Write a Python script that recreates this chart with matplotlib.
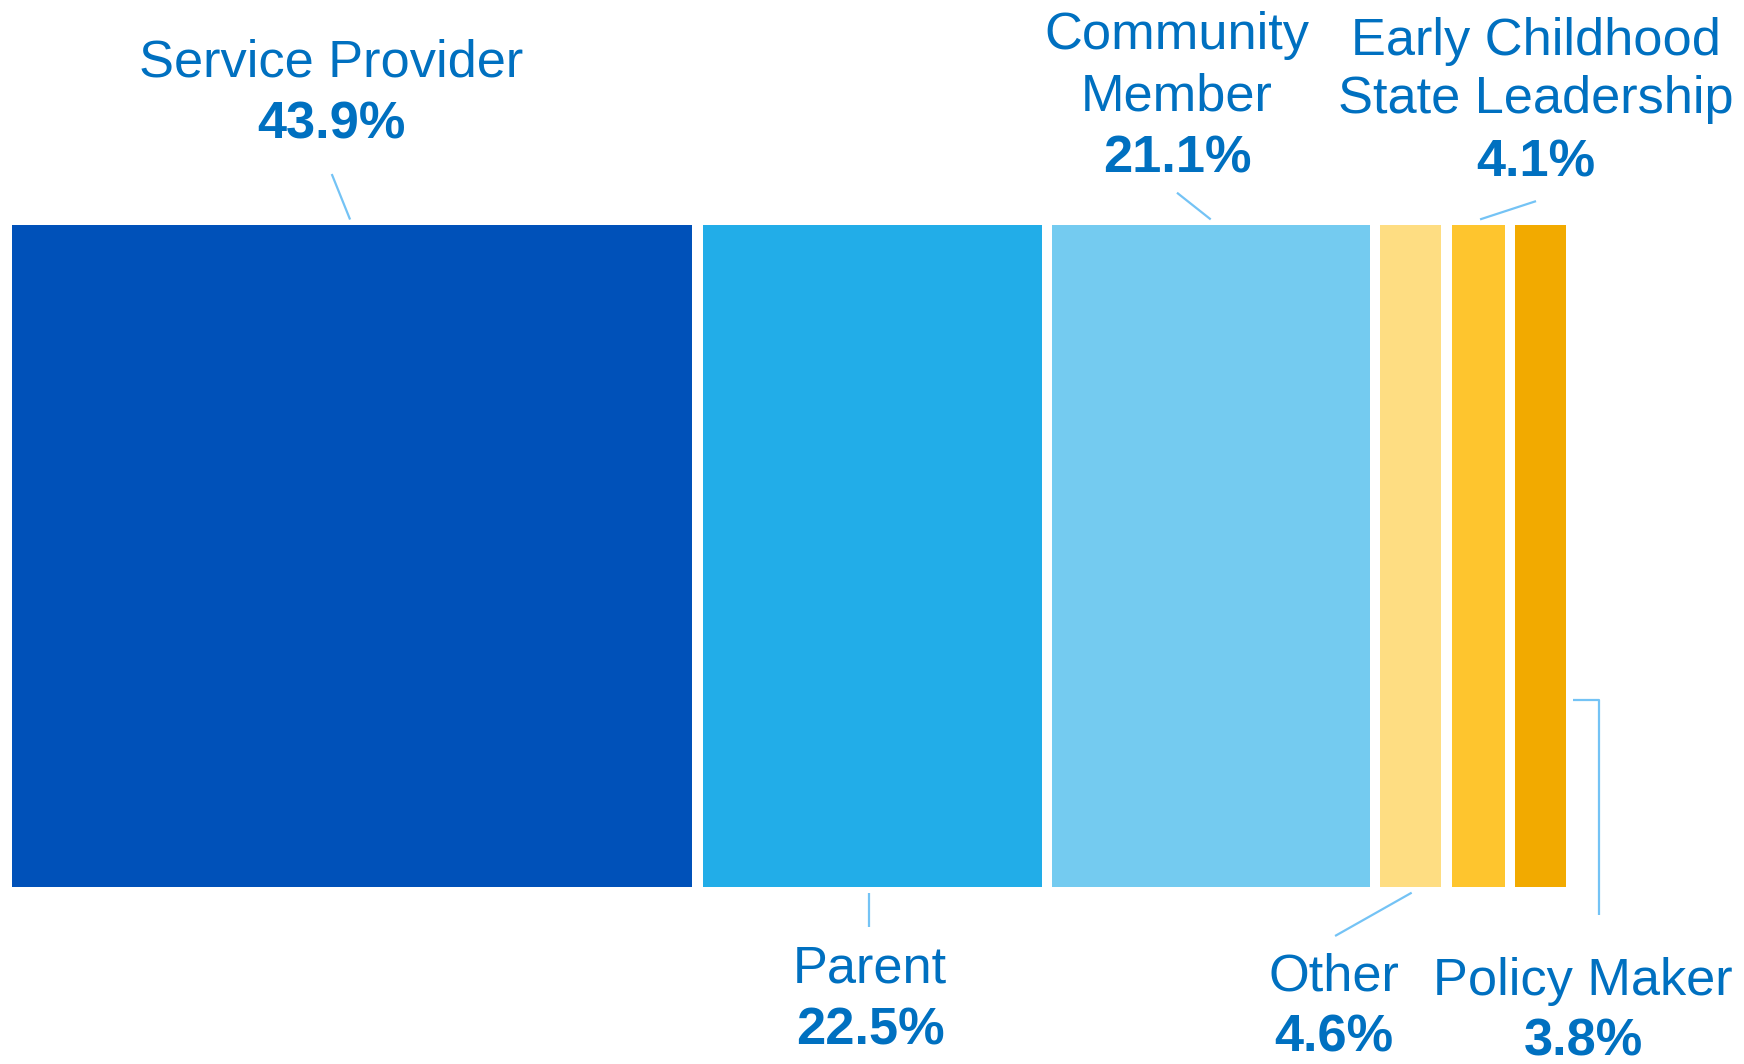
import matplotlib.pyplot as plt

# share of respondents by role (%)
roles = ['Service Provider', 'Parent', 'Community Member', 'Other',
         'Early Childhood State Leadership', 'Policy Maker']
shares = [43.9, 22.5, 21.1, 4.6, 4.1, 3.8]
colors = ['#0051B9', '#22ADE8', '#74CBF0', '#FEDD82', '#FEC52E', '#F2AA00']

# label text lines (name lines), label centre x and baselines (data units)
label_lines = [['Service Provider'], ['Parent'], ['Community', 'Member'], ['Other'],
               ['Early Childhood', 'State Leadership'], ['Policy Maker']]
label_x = [20.54, 55.22, 74.97, 85.05, 98.04, 101.09]
label_base = [[1.2235, 1.1304], [-0.1445, -0.2386], [1.2653, 1.1732, 1.0785],
              [-0.157, -0.2487], [1.2562, 1.1682, 1.0725], [-0.163, -0.2547]]

# leader lines (label side -> bar side)
leaders = [
    ([20.59, 21.77], [1.0765, 1.0078]),
    ([55.18, 55.18], [-0.061, -0.0086]),
    ([74.97, 77.14], [1.0483, 1.008]),
    ([85.14, 90.07], [-0.074, -0.0086]),
    ([98.07, 94.47], [1.0356, 1.008]),
    ([102.1, 102.1, 100.45], [-0.0423, 0.2823, 0.2823]),
]

text_color = '#0070C0'
line_color = '#74C3F5'
gap_left = 0.547   # white gap before a segment
gap_right = 0.142  # white gap after a segment
fs = 37.7

fig = plt.figure(figsize=(17.44, 10.64), dpi=100)
ax = fig.add_axes([0, 0, 1, 1])

start = 0
for i, (v, c) in enumerate(zip(shares, colors)):
    left = start + (gap_left if i > 0 else 0)
    right = start + v - (gap_right if i < len(shares) - 1 else 0)
    ax.bar(left, 1, width=right - left, bottom=0, align='edge', color=c, linewidth=0)
    start += v

for (lx, ly) in leaders:
    ax.plot(lx, ly, color=line_color, lw=1.6, solid_capstyle='butt')

for lines, x, bases, v in zip(label_lines, label_x, label_base, shares):
    for txt, b in zip(lines, bases[:-1]):
        ax.text(x, b, txt, ha='center', va='baseline', fontsize=fs,
                family='Liberation Sans', color=text_color)
    ax.text(x, bases[-1], f'{v}%', ha='center', va='baseline', fontsize=fs,
            family='Liberation Sans', fontweight='bold', color=text_color)

ax.set_xlim(-0.753, 111.45)
ax.set_ylim(-0.2673, 1.3393)
ax.axis('off')

fig.savefig('out.png', dpi=100)
